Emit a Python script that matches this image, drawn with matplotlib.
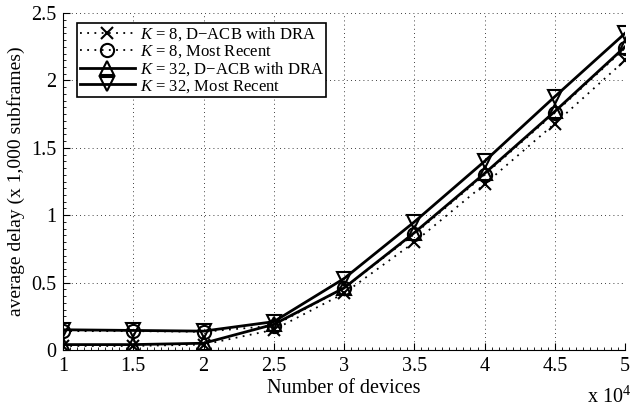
import matplotlib
matplotlib.use("Agg")
import matplotlib.pyplot as plt
from matplotlib.ticker import MultipleLocator

plt.rcParams["font.family"] = ["Liberation Serif", "DejaVu Serif"]
plt.rcParams["mathtext.fontset"] = "custom"
plt.rcParams["mathtext.rm"] = "Liberation Serif"
plt.rcParams["mathtext.it"] = "Liberation Serif:italic"

devices = [1, 1.5, 2, 2.5, 3, 3.5, 4, 4.5, 5]  # x 10^4
k8_dacb = [0.03, 0.03, 0.04, 0.15, 0.42, 0.80, 1.23, 1.68, 2.15]
k8_recent = [0.14, 0.14, 0.135, 0.18, 0.46, 0.86, 1.30, 1.76, 2.24]
k32_dacb = [0.04, 0.04, 0.05, 0.19, 0.46, 0.87, 1.31, 1.77, 2.25]
k32_recent = [0.15, 0.145, 0.14, 0.21, 0.53, 0.95, 1.40, 1.88, 2.35]

labels = [r"$K$ = 8, D−ACB with DRA", r"$K$ = 8, Most Recent",
          r"$K$ = 32, D−ACB with DRA", r"$K$ = 32, Most Recent"]

fig = plt.figure(figsize=(6.32, 4.09), dpi=100)
ax = fig.add_axes([0.0997, 0.1443, 0.8893, 0.8237])

style = dict(color="black", markerfacecolor="none", markeredgecolor="black",
             markeredgewidth=1.5)
dots = (0, (1, 3))
ax.plot(devices, k8_dacb, linestyle=dots, marker="x", markersize=9,
        linewidth=1.3, label=labels[0], **style)
ax.plot(devices, k8_recent, linestyle=dots, marker="o", markersize=9.5,
        linewidth=1.3, label=labels[1], **style)
ax.plot(devices, k32_dacb, "-", marker="^", markersize=10.5,
        linewidth=2, label=labels[2], **style)
ax.plot(devices, k32_recent, "-", marker="v", markersize=10.5,
        linewidth=2, label=labels[3], **style)

ax.set_xlim(1, 5)
ax.set_ylim(0, 2.5)
ax.set_xticks(devices)
ax.set_xticklabels(["1", "1.5", "2", "2.5", "3", "3.5", "4", "4.5", "5"])
ax.set_yticks([0, 0.5, 1, 1.5, 2, 2.5])
ax.set_yticklabels(["0", "0.5", "1", "1.5", "2", "2.5"])
ax.xaxis.set_minor_locator(MultipleLocator(0.05))
ax.yaxis.set_minor_locator(MultipleLocator(0.05))
ax.tick_params(which="both", direction="in", labelsize=14.5, top=False, right=False)
ax.tick_params(which="major", length=5, pad=5)
ax.tick_params(which="minor", length=2.5)
ax.grid(True, which="major", linestyle=(0, (1, 4)), color="black", linewidth=0.6)
ax.spines["top"].set_visible(False)
ax.spines["right"].set_visible(False)

ax.set_xlabel("Number of devices", fontsize=14.5, labelpad=2)
ax.set_ylabel("average delay (x 1,000 subframes)", fontsize=14, labelpad=4)
fig.text(0.929, 0.003, r"x 10$^{4}$", fontsize=14.5, ha="left", va="bottom")

leg = ax.legend(loc="upper left", bbox_to_anchor=(0.025, 0.97), fontsize=12,
                handlelength=3.3, labelspacing=0.0, borderpad=0.15,
                handletextpad=0.3, borderaxespad=0, fancybox=False, framealpha=1)
leg.get_frame().set_edgecolor("black")
leg.get_frame().set_linewidth(1.2)

fig.savefig("out.png", dpi=100)
